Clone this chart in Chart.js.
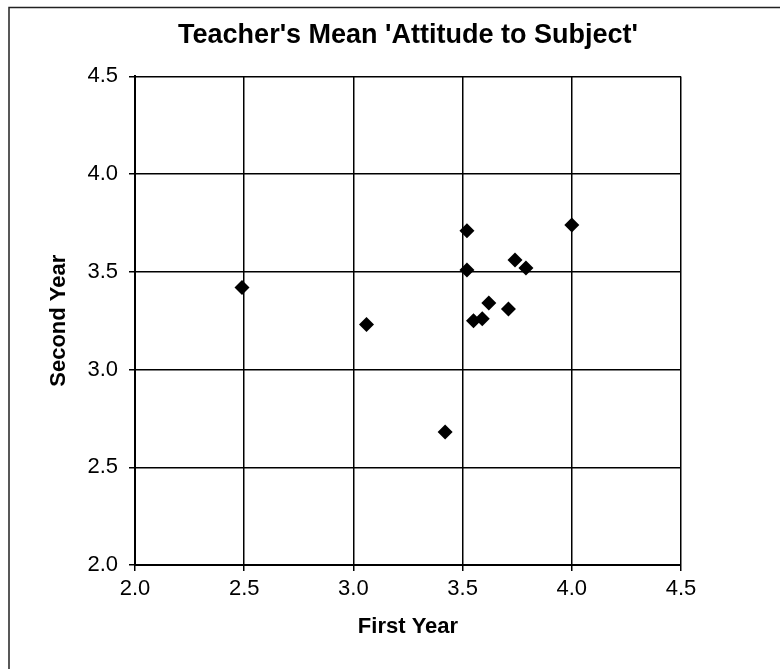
<!DOCTYPE html>
<html lang="en">
<head>
    <meta charset="UTF-8">
    <title>Teacher's Mean 'Attitude to Subject'</title>
    <script src="https://cdn.jsdelivr.net/npm/chart.js"></script>
    <style>
        body { margin: 0; background: #fff; }
        #wrap { width: 780px; height: 669px; position: relative; }
    </style>
</head>
<body>
    <div id="wrap"><canvas id="myChart"></canvas></div>

    <script>
        // values
        const firstYear  = [2.49, 3.06, 3.42, 3.52, 3.52, 3.55, 3.59, 3.62, 3.71, 3.74, 3.79, 4.00];
        const secondYear = [3.42, 3.23, 2.68, 3.71, 3.51, 3.25, 3.26, 3.34, 3.31, 3.56, 3.52, 3.74];
        const axisMin = 2.0;
        const axisMax = 4.5;
        const axisStep = 0.5;

        const font = "'Liberation Sans', Arial, sans-serif";

        // outer frame of the figure (only left and top edges show in the scan)
        const framePlugin = {
            id: 'frame',
            beforeDraw(chart) {
                const c = chart.ctx;
                c.save();
                c.fillStyle = '#fff';
                c.fillRect(0, 0, chart.width, chart.height);
                c.strokeStyle = '#222';
                c.lineWidth = 1.5;
                c.strokeRect(9, 7.5, chart.width + 10, chart.height + 10);
                c.restore();
            }
        };

        const points = firstYear.map((x, i) => ({ x: x, y: secondYear[i] }));

        const ctx = document.getElementById('myChart').getContext('2d');
        const myChart = new Chart(ctx, {
            type: 'scatter',
            data: {
                datasets: [{
                    label: 'Teachers',
                    data: points,
                    pointStyle: 'rectRot',
                    pointRadius: 7.5,
                    backgroundColor: '#000',
                    borderColor: '#000',
                    borderWidth: 0
                }]
            },
            plugins: [framePlugin],
            options: {
                responsive: true,
                maintainAspectRatio: false,
                animation: false,
                layout: { padding: { left: 9, right: 99, top: 10, bottom: 10 } },
                plugins: {
                    legend: { display: false },
                    tooltip: { enabled: false },
                    title: {
                        display: true,
                        fullSize: false,
                        text: "Teacher's Mean 'Attitude to Subject'",
                        color: '#000',
                        font: { family: font, size: 27, weight: 'bold' },
                        padding: { top: 9, bottom: 25 }
                    }
                },
                scales: {
                    x: {
                        type: 'linear',
                        min: axisMin,
                        max: axisMax,
                        afterFit: (scale) => { scale.height = 94; },
                        ticks: {
                            stepSize: axisStep,
                            color: '#000',
                            padding: 5,
                            font: { family: font, size: 22 },
                            callback: (v) => v.toFixed(1)
                        },
                        grid: { color: '#000', lineWidth: 1.5, tickLength: 6, tickColor: '#000' },
                        border: { color: '#000', width: 2 },
                        title: {
                            display: true,
                            text: 'First Year',
                            color: '#000',
                            font: { family: font, size: 22, weight: 'bold' },
                            padding: { top: 4, bottom: 19 }
                        }
                    },
                    y: {
                        type: 'linear',
                        min: axisMin,
                        max: axisMax,
                        afterFit: (scale) => { scale.width = 126; },
                        ticks: {
                            stepSize: axisStep,
                            color: '#000',
                            padding: 11,
                            font: { family: font, size: 22 },
                            callback: (v) => v.toFixed(1)
                        },
                        grid: { color: '#000', lineWidth: 1.5, tickLength: 6, tickColor: '#000' },
                        border: { color: '#000', width: 2 },
                        title: {
                            display: true,
                            text: 'Second Year',
                            color: '#000',
                            font: { family: font, size: 22, weight: 'bold' },
                            padding: { top: 37, bottom: 4 }
                        }
                    }
                }
            }
        });
    </script>
</body>
</html>
